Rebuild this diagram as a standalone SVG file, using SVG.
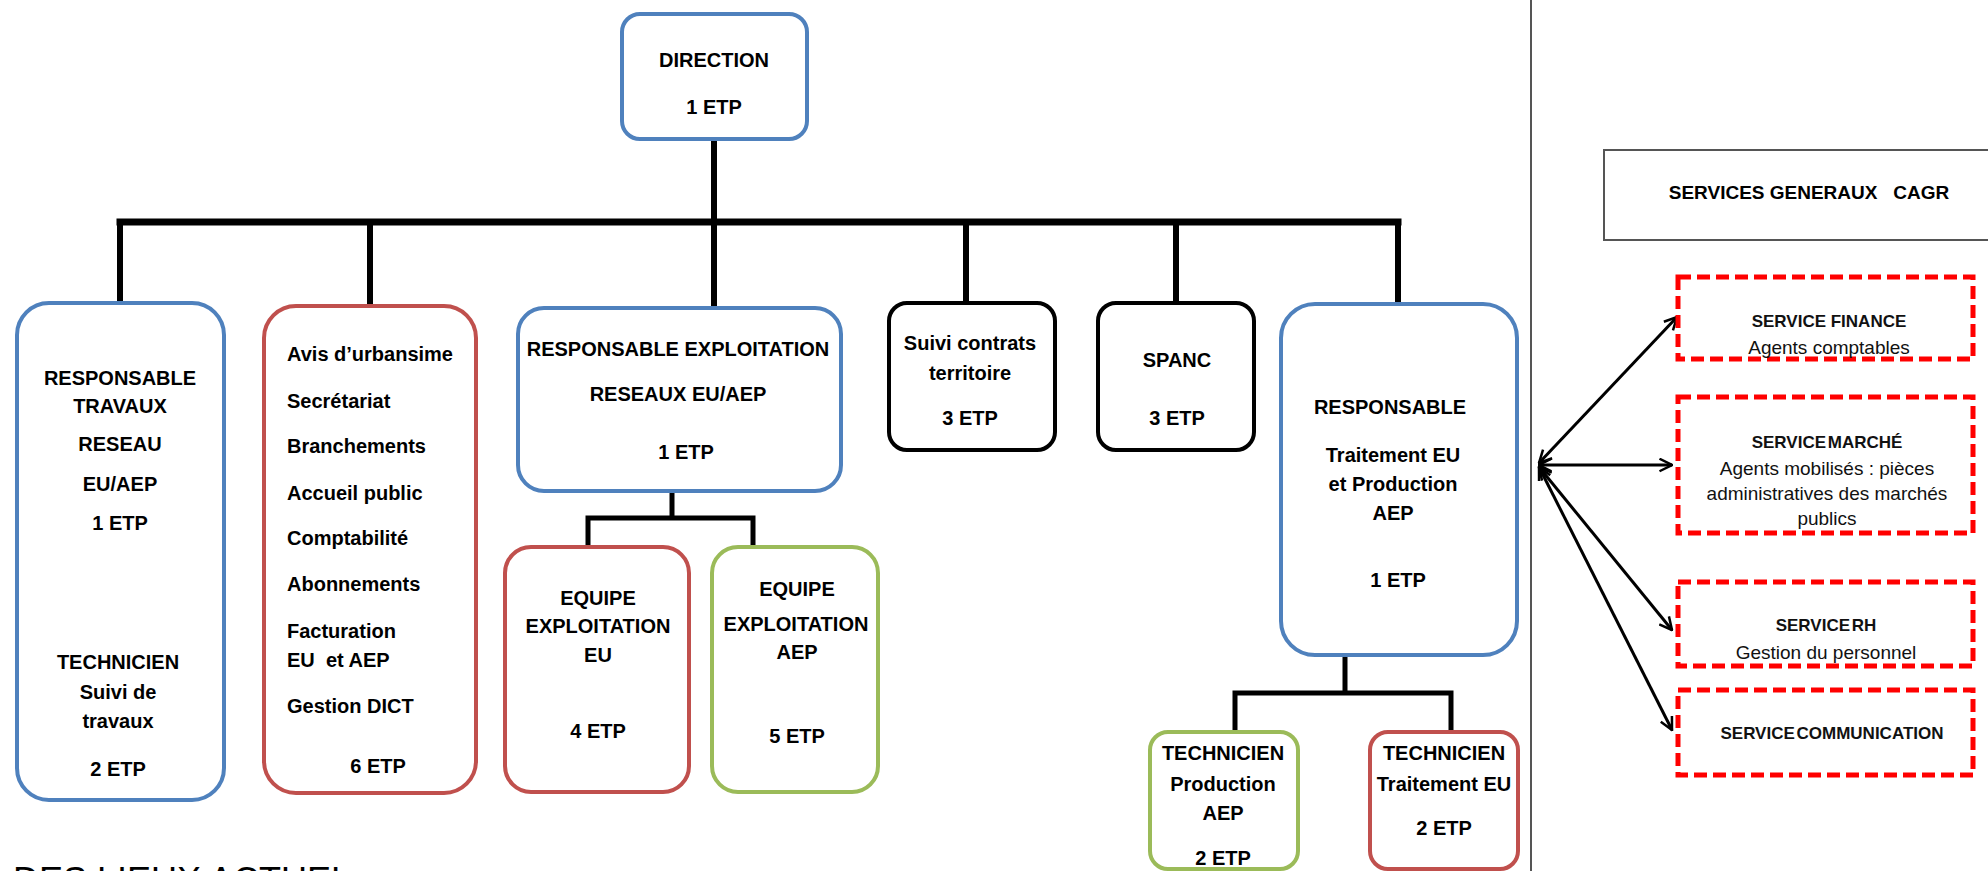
<svg xmlns="http://www.w3.org/2000/svg" width="1988" height="871" viewBox="0 0 1988 871">
<style>
.box{fill:#fff;stroke-width:4}
.blue{stroke:#4F81BD}
.red{stroke:#C0504D}
.green{stroke:#9BBB59}
.black{stroke:#000}
.svc{fill:#fff;stroke:#FF0000;stroke-width:5;stroke-dasharray:13 6}
.t{font-family:"Liberation Sans",Arial,sans-serif;font-weight:bold;font-size:20px;fill:#000;text-anchor:middle}
.l{text-anchor:start}
.st{font-family:"Liberation Sans",Arial,sans-serif;font-weight:bold;font-size:17px;fill:#111;text-anchor:middle}
.sr{font-family:"Liberation Sans",Arial,sans-serif;font-size:19px;fill:#111;text-anchor:middle}
.c{stroke:#000;fill:none;stroke-linecap:square}
.a{stroke:#000;stroke-width:3;fill:none}
</style>
<defs>
<marker id="ah" viewBox="0 0 12 12" refX="11" refY="6" markerWidth="5" markerHeight="5" orient="auto-start-reverse" markerUnits="strokeWidth">
<path d="M1,1 L11,6 L1,11" fill="none" stroke="#000" stroke-width="2"/>
</marker>
</defs>
<rect width="1988" height="871" fill="#fff"/>
<line x1="1531" y1="0" x2="1531" y2="871" stroke="#555" stroke-width="2"/>
<g id="connectors">
<line class="c" x1="714" y1="139" x2="714" y2="306" stroke-width="6"/>
<line class="c" x1="120" y1="222" x2="1398" y2="222" stroke-width="7"/>
<line class="c" x1="120" y1="222" x2="120" y2="302" stroke-width="6"/>
<line class="c" x1="370" y1="222" x2="370" y2="305" stroke-width="6"/>
<line class="c" x1="966" y1="222" x2="966" y2="302" stroke-width="6"/>
<line class="c" x1="1176" y1="222" x2="1176" y2="302" stroke-width="6"/>
<line class="c" x1="1398" y1="222" x2="1398" y2="303" stroke-width="6"/>
<path class="c" d="M672,492 V518 M588,546 V518 H753 V546" stroke-width="5"/>
<path class="c" d="M1345,656 V693 M1235,730 V693 H1451 V730" stroke-width="5"/>
<line class="a" x1="1539" y1="463" x2="1677" y2="317" marker-start="url(#ah)" marker-end="url(#ah)"/>
<line class="a" x1="1539" y1="465" x2="1672" y2="465" marker-start="url(#ah)" marker-end="url(#ah)"/>
<line class="a" x1="1539" y1="467" x2="1672" y2="630" marker-start="url(#ah)" marker-end="url(#ah)"/>
<line class="a" x1="1539" y1="467" x2="1672" y2="730" marker-start="url(#ah)" marker-end="url(#ah)"/>
</g>
<g id="direction">
<rect class="box blue" x="622" y="14" width="185" height="125" rx="18"/>
<text class="t" x="714" y="67">DIRECTION</text>
<text class="t" x="714" y="114">1 ETP</text>
</g>
<g id="resp-travaux">
<rect class="box blue" x="17" y="303" width="207" height="497" rx="32"/>
<text class="t" x="120" y="385">RESPONSABLE</text>
<text class="t" x="120" y="413">TRAVAUX</text>
<text class="t" x="120" y="451">RESEAU</text>
<text class="t" x="120" y="491">EU/AEP</text>
<text class="t" x="120" y="530">1 ETP</text>
<text class="t" x="118" y="669">TECHNICIEN</text>
<text class="t" x="118" y="699">Suivi de</text>
<text class="t" x="118" y="728">travaux</text>
<text class="t" x="118" y="776">2 ETP</text>
</g>
<g id="secretariat">
<rect class="box red" x="264" y="306" width="212" height="487" rx="32"/>
<text class="t l" x="287" y="361">Avis d’urbansime</text>
<text class="t l" x="287" y="408">Secrétariat</text>
<text class="t l" x="287" y="453">Branchements</text>
<text class="t l" x="287" y="500">Accueil public</text>
<text class="t l" x="287" y="545">Comptabilité</text>
<text class="t l" x="287" y="591">Abonnements</text>
<text class="t l" x="287" y="638">Facturation</text>
<text class="t l" x="287" y="667" xml:space="preserve">EU  et AEP</text>
<text class="t l" x="287" y="713">Gestion DICT</text>
<text class="t" x="378" y="773">6 ETP</text>
</g>
<g id="resp-exploitation">
<rect class="box blue" x="518" y="308" width="323" height="183" rx="26"/>
<text class="t" x="678" y="356">RESPONSABLE EXPLOITATION</text>
<text class="t" x="678" y="401">RESEAUX EU/AEP</text>
<text class="t" x="686" y="459">1 ETP</text>
</g>
<g id="equipe-eu">
<rect class="box red" x="505" y="547" width="184" height="245" rx="26"/>
<text class="t" x="598" y="605">EQUIPE</text>
<text class="t" x="598" y="633">EXPLOITATION</text>
<text class="t" x="598" y="662">EU</text>
<text class="t" x="598" y="738">4 ETP</text>
</g>
<g id="equipe-aep">
<rect class="box green" x="712" y="547" width="166" height="245" rx="26"/>
<text class="t" x="797" y="596">EQUIPE</text>
<text class="t" x="796" y="631">EXPLOITATION</text>
<text class="t" x="797" y="659">AEP</text>
<text class="t" x="797" y="743">5 ETP</text>
</g>
<g id="suivi-contrats">
<rect class="box black" x="889" y="303" width="166" height="147" rx="18"/>
<text class="t" x="970" y="350">Suivi contrats</text>
<text class="t" x="970" y="380">territoire</text>
<text class="t" x="970" y="425">3 ETP</text>
</g>
<g id="spanc">
<rect class="box black" x="1098" y="303" width="156" height="147" rx="18"/>
<text class="t" x="1177" y="367">SPANC</text>
<text class="t" x="1177" y="425">3 ETP</text>
</g>
<g id="resp-traitement">
<rect class="box blue" x="1281" y="304" width="236" height="351" rx="34"/>
<text class="t" x="1390" y="414">RESPONSABLE</text>
<text class="t" x="1393" y="462">Traitement EU</text>
<text class="t" x="1393" y="491">et Production</text>
<text class="t" x="1393" y="520">AEP</text>
<text class="t" x="1398" y="587">1 ETP</text>
</g>
<g id="tech-production">
<rect class="box green" x="1150" y="732" width="148" height="137" rx="18"/>
<text class="t" x="1223" y="760">TECHNICIEN</text>
<text class="t" x="1223" y="791">Production</text>
<text class="t" x="1223" y="820">AEP</text>
<text class="t" x="1223" y="865">2 ETP</text>
</g>
<g id="tech-traitement">
<rect class="box red" x="1370" y="732" width="148" height="137" rx="18"/>
<text class="t" x="1444" y="760">TECHNICIEN</text>
<text class="t" x="1444" y="791">Traitement EU</text>
<text class="t" x="1444" y="835">2 ETP</text>
</g>
<g id="services-generaux">
<rect x="1604" y="150" width="400" height="90" fill="#fff" stroke="#555" stroke-width="2"/>
<text class="t" x="1809" y="199" style="font-size:19px" xml:space="preserve">SERVICES GENERAUX   CAGR</text>
</g>
<g id="service-finance">
<rect class="svc" x="1678" y="277" width="295" height="82"/>
<text class="st" x="1829" y="327">SERVICE FINANCE</text>
<text class="sr" x="1829" y="354">Agents comptables</text>
</g>
<g id="service-marche">
<rect class="svc" x="1678" y="397" width="295" height="136"/>
<text class="st" x="1827" y="448" style="word-spacing:-3px">SERVICE MARCHÉ</text>
<text class="sr" x="1827" y="475">Agents mobilisés : pièces</text>
<text class="sr" x="1827" y="500">administratives des marchés</text>
<text class="sr" x="1827" y="525">publics</text>
</g>
<g id="service-rh">
<rect class="svc" x="1678" y="582" width="295" height="84"/>
<text class="st" x="1826" y="631" style="word-spacing:-3px">SERVICE RH</text>
<text class="sr" x="1826" y="659">Gestion du personnel</text>
</g>
<g id="service-communication">
<rect class="svc" x="1678" y="690" width="295" height="85"/>
<text class="st" x="1832" y="739" style="word-spacing:-3px">SERVICE COMMUNICATION</text>
</g>
<text x="13" y="893" font-family="'Liberation Sans',Arial,sans-serif" font-size="36" fill="#000">DES LIEUX ACTUEL</text>
</svg>
